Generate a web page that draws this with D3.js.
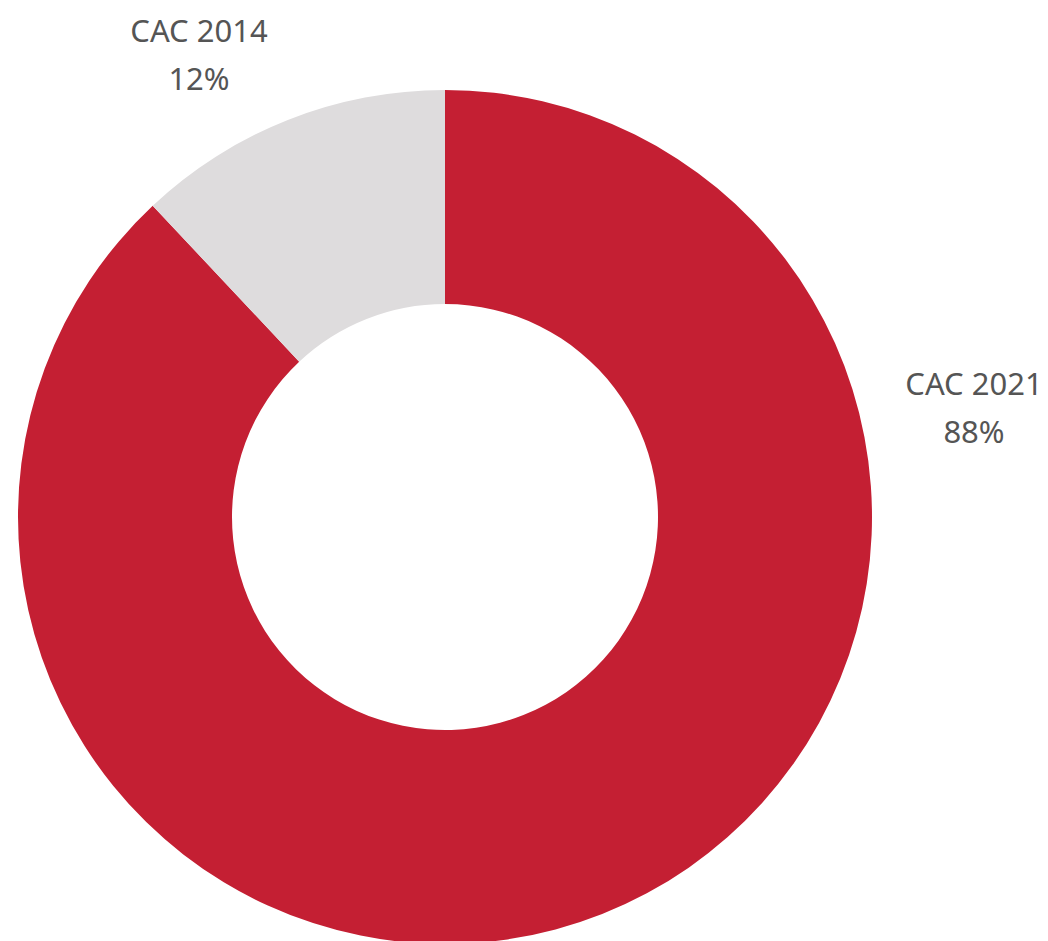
<!DOCTYPE html>
<html>
<head>
<meta charset="utf-8">
<script src="https://cdn.jsdelivr.net/npm/d3@7"></script>
<style>
  body { margin: 0; background: #fff; }
  text { font-family: "Noto Sans", "Open Sans", sans-serif; fill: #555; }
</style>
</head>
<body>
<div id="chart"></div>
<script>
// data
var labels = ["CAC 2021", "CAC 2014"];
var values = [88, 12];
var colors = ["#c41f33", "#dedcdd"];

var svgWidth = 1048, svgHeight = 941;
var cx = 445, cy = 517;
var outerR = 427, innerR = 213;

var svg = d3.select("#chart").append("svg").attr("width", svgWidth).attr("height", svgHeight);
var g = svg.append("g").attr("transform", `translate(${cx}, ${cy})`);

var pie = d3.pie().sort(null).value(d => d)(values);
var arc = d3.arc().innerRadius(innerR).outerRadius(outerR);

g.selectAll("path").data(pie).enter().append("path")
  .attr("d", arc)
  .attr("fill", (d, i) => colors[i]);

// labels placed outside the ring
var labelPos = [[529, -122], [-246, -475]];
pie.forEach(function(d, i) {
  var t = g.append("text").attr("text-anchor", "middle")
    .attr("transform", `translate(${labelPos[i][0]}, ${labelPos[i][1]})`)
    .style("font-size", "31px");
  t.append("tspan").attr("x", 0).attr("y", 0).text(labels[i]);
  t.append("tspan").attr("x", 0).attr("y", 48).text(values[i] + "%");
});
</script>
</body>
</html>
